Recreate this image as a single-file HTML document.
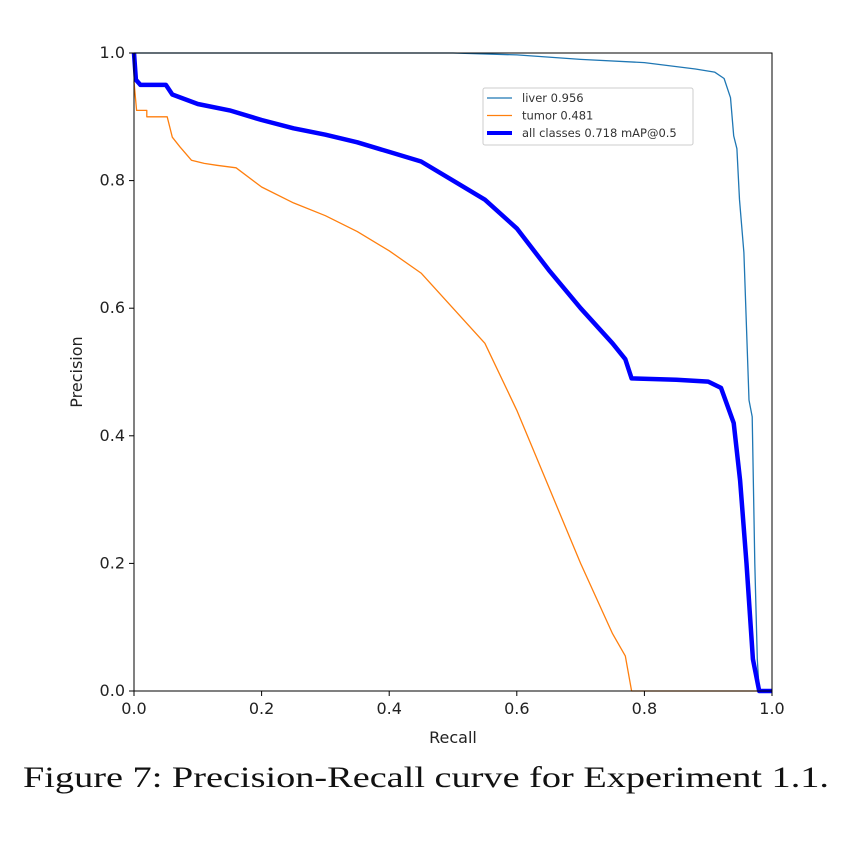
<!DOCTYPE html>
<html><head><meta charset="utf-8"><style>
body{margin:0;background:#fff;width:852px;height:848px;overflow:hidden}
svg{display:block}
</style></head><body>
<svg id="chart" width="852" height="848" xmlns="http://www.w3.org/2000/svg" font-family="'DejaVu Sans','Liberation Sans',sans-serif">
<g id="plot"></g>
<text x="23" y="787" textLength="806" lengthAdjust="spacingAndGlyphs" font-family="'Liberation Serif',serif" font-size="30" fill="#111">Figure 7: Precision-Recall curve for Experiment 1.1.</text>
</svg>
<script>
const xTicks=[0,0.2,0.4,0.6,0.8,1.0];
const yTicks=[0,0.2,0.4,0.6,0.8,1.0];
const liverX=[0,0.5,0.6,0.7,0.8,0.88,0.91,0.925,0.935,0.94,0.945,0.949,0.956,0.964,0.969,0.973,0.977,0.98,1.0];
const liverY=[1,1,0.997,0.99,0.985,0.975,0.97,0.96,0.93,0.87,0.85,0.77,0.687,0.456,0.43,0.2,0.05,0,0];
const tumorX=[0,0.004,0.02,0.02,0.052,0.06,0.072,0.09,0.11,0.13,0.16,0.2,0.25,0.3,0.35,0.4,0.45,0.5,0.55,0.6,0.65,0.7,0.75,0.77,0.78,1.0];
const tumorY=[0.955,0.91,0.91,0.9,0.9,0.868,0.853,0.832,0.827,0.824,0.82,0.79,0.765,0.745,0.72,0.69,0.655,0.6,0.545,0.44,0.32,0.2,0.09,0.055,0,0];
const allX=[0,0.003,0.01,0.05,0.06,0.1,0.15,0.2,0.25,0.3,0.35,0.4,0.45,0.5,0.55,0.6,0.65,0.7,0.75,0.77,0.78,0.85,0.9,0.92,0.94,0.95,0.96,0.97,0.98,1.0];
const allY=[1,0.958,0.95,0.95,0.935,0.92,0.91,0.895,0.882,0.872,0.86,0.845,0.83,0.8,0.77,0.725,0.66,0.6,0.545,0.52,0.49,0.488,0.485,0.475,0.42,0.33,0.2,0.05,0,0];
const X0=134,X1=772,Y0=691,Y1=53;
const sx=v=>X0+v*(X1-X0), sy=v=>Y0-v*(Y0-Y1);
const NS='http://www.w3.org/2000/svg';
const g=document.getElementById('plot');
function mk(t,a){const e=document.createElementNS(NS,t);for(const k in a)e.setAttribute(k,a[k]);g.appendChild(e);return e;}
function line(xs,ys,color,w,name){
  const d=xs.map((x,i)=>(i?'L':'M')+sx(x).toFixed(1)+','+sy(ys[i]).toFixed(1)).join('');
  const p=mk('path',{d:d,fill:'none',stroke:color,'stroke-width':w,'stroke-linejoin':'round'});
  
  
}
line(liverX,liverY,'#1f77b4',1.3,'liver-curve');
line(tumorX,tumorY,'#ff7f0e',1.3,'tumor-curve');
line(allX,allY,'#0000ff',4.5,'all-classes-curve');
const fr=mk('rect',{x:X0,y:Y1,width:X1-X0,height:Y0-Y1,fill:'none',stroke:'#000','stroke-width':1});


xTicks.forEach(v=>{
  mk('line',{x1:sx(v),x2:sx(v),y1:Y0,y2:Y0+5,stroke:'#000'});
  const t=mk('text',{x:sx(v),y:Y0+23,'text-anchor':'middle','font-size':16,fill:'#222'});
  t.textContent=v.toFixed(1);
  
  
});
yTicks.forEach(v=>{
  mk('line',{x1:X0-5,x2:X0,y1:sy(v),y2:sy(v),stroke:'#000'});
  const t=mk('text',{x:X0-9,y:sy(v)+5,'text-anchor':'end','font-size':16,fill:'#222'});
  t.textContent=v.toFixed(1);
  
  
});
let t=mk('text',{x:453,y:743,'text-anchor':'middle','font-size':16,fill:'#222'});t.textContent='Recall';


t=mk('text',{x:82,y:372,'text-anchor':'middle','font-size':16,fill:'#222',transform:'rotate(-90 82 372)'});t.textContent='Precision';


const lg=mk('rect',{x:483,y:88,width:210,height:57,rx:2,fill:'#fff','fill-opacity':0.85,stroke:'#ccc'});


[['liver 0.956','#1f77b4',1.3],['tumor 0.481','#ff7f0e',1.3],['all classes 0.718 mAP@0.5','#0000ff',4]].forEach((e,i)=>{
  const y=98+i*17.5;
  mk('line',{x1:487,x2:512,y1:y,y2:y,stroke:e[1],'stroke-width':e[2]});
  const tt=mk('text',{x:522,y:y+4,'font-size':11.5,fill:'#333'});tt.textContent=e[0];
  
  
});
</script>
</body></html>
